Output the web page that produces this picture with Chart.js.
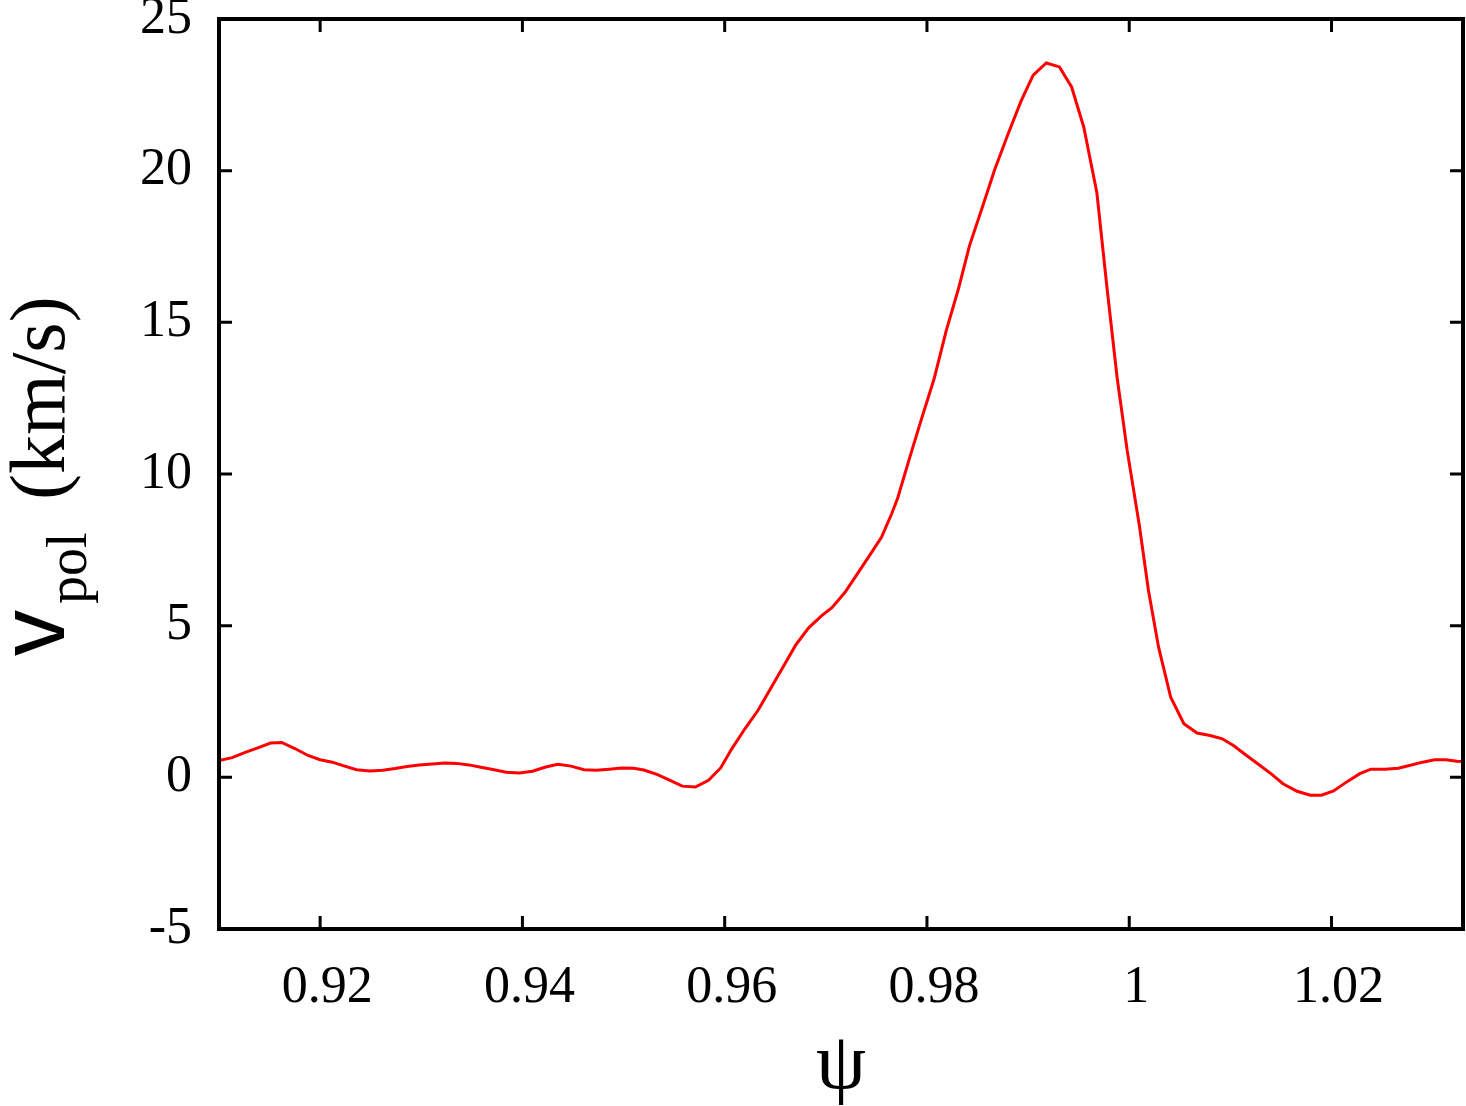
<!DOCTYPE html>
<html lang="en">
<head>
    <meta charset="UTF-8"/>
    <title>v_pol vs psi</title>
    <style>
        body { margin: 0; background: #fff; }
        #wrap { width: 1466px; height: 1106px; position: relative; }
    </style>
    <script src="https://cdn.jsdelivr.net/npm/chart.js"></script>
</head>
<body>
    <div id="wrap"><canvas id="myChart"></canvas></div>
    <script>
        // values
        var psi = [
            0.9100, 0.9113, 0.9126, 0.9139, 0.9151, 0.9162, 0.9175, 0.9188, 0.9200, 0.9212,
            0.9225, 0.9236, 0.9249, 0.9262, 0.9274, 0.9286, 0.9298, 0.9311, 0.9323, 0.9335,
            0.9347, 0.9359, 0.9372, 0.9384, 0.9397, 0.9410, 0.9423, 0.9435, 0.9448, 0.9461,
            0.9473, 0.9486, 0.9498, 0.9510, 0.9520, 0.9533, 0.9546, 0.9558, 0.9571, 0.9584,
            0.9596, 0.9607, 0.9620, 0.9633, 0.9645, 0.9657, 0.9670, 0.9683, 0.9696, 0.9706,
            0.9719, 0.9729, 0.9742, 0.9755, 0.9765, 0.9771, 0.9783, 0.9794, 0.9807, 0.9819,
            0.9831, 0.9842, 0.9854, 0.9867, 0.9880, 0.9893, 0.9905, 0.9918, 0.9931, 0.9943,
            0.9955, 0.9968, 0.9978, 0.9988, 0.9998, 1.0010, 1.0019, 1.0029, 1.0041, 1.0054,
            1.0067, 1.0080, 1.0092, 1.0103, 1.0116, 1.0129, 1.0141, 1.0152, 1.0166, 1.0179,
            1.0190, 1.0202, 1.0215, 1.0228, 1.0239, 1.0253, 1.0266, 1.0277, 1.0290, 1.0302,
            1.0313, 1.0324, 1.0330
        ];
        var vpol = [
            0.55, 0.65, 0.82, 0.98, 1.13, 1.15, 0.95, 0.72, 0.58, 0.50,
            0.36, 0.25, 0.21, 0.23, 0.29, 0.36, 0.41, 0.44, 0.47, 0.46,
            0.41, 0.33, 0.25, 0.17, 0.14, 0.20, 0.34, 0.43, 0.37, 0.25,
            0.23, 0.27, 0.31, 0.30, 0.24, 0.10, -0.10, -0.29, -0.32, -0.10,
            0.31, 0.94, 1.60, 2.21, 2.90, 3.60, 4.35, 4.93, 5.33, 5.59,
            6.10, 6.60, 7.25, 7.91, 8.68, 9.20, 10.55, 11.75, 13.13, 14.72,
            16.09, 17.52, 18.72, 20.04, 21.19, 22.29, 23.15, 23.55, 23.42, 22.76,
            21.44, 19.27, 16.14, 13.18, 10.77, 8.30, 6.16, 4.29, 2.64, 1.77,
            1.46, 1.38, 1.27, 1.05, 0.72, 0.40, 0.10, -0.21, -0.46, -0.59,
            -0.59, -0.45, -0.15, 0.12, 0.27, 0.27, 0.30, 0.39, 0.50, 0.58,
            0.58, 0.53, 0.52
        ];
        var xTicks = [0.92, 0.94, 0.96, 0.98, 1.00, 1.02];
        var xTickLabels = ['0.92', '0.94', '0.96', '0.98', '1', '1.02'];
        var yTicks = [-5, 0, 5, 10, 15, 20, 25];

        var serif = "'Liberation Serif', 'Times New Roman', serif";

        var points = psi.map(function (p, i) { return { x: p, y: vpol[i] }; });

        // frame, inward ticks and axis titles, gnuplot style
        var framePlugin = {
            id: 'frame',
            afterDraw: function (chart) {
                var ctx = chart.ctx;
                var a = chart.chartArea;
                var xs = chart.scales.x, ys = chart.scales.y;
                var tl = 13;
                ctx.save();
                ctx.strokeStyle = '#000';
                ctx.lineWidth = 3;
                ctx.beginPath();
                xTicks.forEach(function (v) {
                    var px = xs.getPixelForValue(v);
                    ctx.moveTo(px, a.bottom); ctx.lineTo(px, a.bottom - tl);
                    ctx.moveTo(px, a.top); ctx.lineTo(px, a.top + tl);
                });
                yTicks.forEach(function (v) {
                    var py = ys.getPixelForValue(v);
                    ctx.moveTo(a.left, py); ctx.lineTo(a.left + tl, py);
                    ctx.moveTo(a.right, py); ctx.lineTo(a.right - tl, py);
                });
                ctx.stroke();
                ctx.lineWidth = 4;
                ctx.strokeRect(a.left, a.top, a.right - a.left, a.bottom - a.top);

                // x title
                ctx.fillStyle = '#000';
                ctx.textAlign = 'center';
                ctx.textBaseline = 'alphabetic';
                ctx.font = '80px ' + serif;
                ctx.fillText('\u03C8', (a.left + a.right) / 2, 1088);

                // y title, rotated
                ctx.translate(64, 0);
                ctx.rotate(-Math.PI / 2);
                ctx.textAlign = 'left';
                ctx.font = "92px 'Liberation Sans', sans-serif";
                ctx.fillText('v', -656, 0);
                ctx.font = '56px ' + serif;
                ctx.fillText('pol', -604, 22);
                ctx.font = '78px ' + serif;
                ctx.fillText('(km/s)', -500, 0);
                ctx.restore();
            }
        };

        new Chart(document.getElementById('myChart'), {
            type: 'scatter',
            data: {
                datasets: [{
                    label: 'v_pol',
                    data: points,
                    showLine: true,
                    borderColor: '#ff0000',
                    borderWidth: 3,
                    pointRadius: 0,
                    tension: 0
                }]
            },
            options: {
                responsive: true,
                maintainAspectRatio: false,
                animation: false,
                layout: { padding: { top: 19, right: 3, left: 0, bottom: 0 } },
                plugins: { legend: { display: false }, tooltip: { enabled: false } },
                scales: {
                    x: {
                        type: 'linear',
                        min: 0.91,
                        max: 1.033,
                        grid: { display: false, drawTicks: false },
                        border: { display: false },
                        afterBuildTicks: function (scale) {
                            scale.ticks = xTicks.map(function (v) { return { value: v }; });
                        },
                        afterFit: function (scale) {
                            scale.height = 177;
                            scale.paddingLeft = 0;
                            scale.paddingRight = 0;
                        },
                        ticks: {
                            color: '#000',
                            font: { family: serif, size: 52 },
                            padding: 28,
                            labelOffset: 7,
                            maxRotation: 0,
                            callback: function (value) {
                                var i = xTicks.indexOf(value);
                                return i >= 0 ? xTickLabels[i] : '';
                            }
                        }
                    },
                    y: {
                        min: -5,
                        max: 25,
                        grid: { display: false, drawTicks: false },
                        border: { display: false },
                        afterBuildTicks: function (scale) {
                            scale.ticks = yTicks.map(function (v) { return { value: v }; });
                        },
                        afterFit: function (scale) {
                            scale.width = 219;
                            scale.paddingTop = 0;
                            scale.paddingBottom = 0;
                        },
                        ticks: {
                            color: '#000',
                            font: { family: serif, size: 52 },
                            padding: 27
                        }
                    }
                }
            },
            plugins: [framePlugin]
        });
    </script>
</body>
</html>
